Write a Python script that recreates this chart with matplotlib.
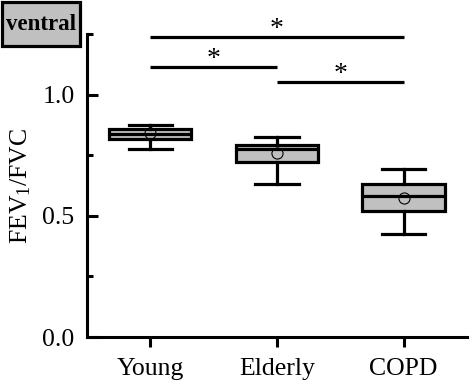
import matplotlib
matplotlib.use('Agg')
import matplotlib.pyplot as plt
from matplotlib.ticker import MultipleLocator
from matplotlib.patches import Rectangle

font = {'family': 'Liberation Serif', 'size': 18.5}
matplotlib.rc('font', **font)
matplotlib.rcParams['mathtext.fontset'] = 'custom'
matplotlib.rcParams['mathtext.rm'] = 'Liberation Serif'
matplotlib.rcParams['mathtext.default'] = 'regular'

# Data
groups = ['Young', 'Elderly', 'COPD']
whislo = [0.776, 0.631, 0.424]
q1 = [0.817, 0.724, 0.521]
med = [0.838, 0.776, 0.580]
q3 = [0.858, 0.793, 0.632]
whishi = [0.876, 0.825, 0.693]
means = [0.840, 0.759, 0.574]

# significance brackets: (from group, to group, height)
sig_pairs = [(1, 3, 1.238), (1, 2, 1.114), (2, 3, 1.051)]

fig = plt.figure(figsize=(4.77, 3.92), dpi=100)
ax = fig.add_axes([0.1824, 0.1403, 0.7966, 0.7727])

stats = []
for i in range(len(groups)):
    stats.append({'label': groups[i], 'whislo': whislo[i], 'q1': q1[i], 'med': med[i],
                  'q3': q3[i], 'whishi': whishi[i], 'mean': means[i]})

lw = 2.3
ax.bxp(stats, positions=[1, 2, 3], widths=0.65, patch_artist=True, showmeans=True,
       showfliers=False,
       boxprops=dict(facecolor='#c0c0c0', edgecolor='k', linewidth=lw),
       medianprops=dict(color='k', linewidth=lw),
       whiskerprops=dict(color='k', linewidth=lw),
       capprops=dict(color='k', linewidth=lw),
       capwidths=0.34,
       meanprops=dict(marker='o', markerfacecolor='none', markeredgecolor='k',
                      markersize=8, markeredgewidth=0.8))

for a, b, h in sig_pairs:
    ax.plot([a, b], [h, h], c='k', lw=lw, clip_on=False, solid_capstyle='butt')
    ax.text((a + b) / 2, h + 0.006, '*', ha='center', va='baseline', fontsize=20)

ax.set_xlim(0.5, 3.5)
ax.set_ylim(0, 1.25)
ax.set_xticks([1, 2, 3])
ax.set_xticklabels(groups)
ax.yaxis.set_major_locator(MultipleLocator(0.5))
ax.yaxis.set_minor_locator(MultipleLocator(0.25))
ax.yaxis.set_major_formatter(matplotlib.ticker.FormatStrFormatter('%.1f'))
ax.tick_params(axis='y', which='major', direction='in', length=8, width=2.2, pad=9)
ax.tick_params(axis='y', which='minor', direction='in', length=4.5, width=2.2)
ax.tick_params(axis='x', which='major', direction='out', length=7, width=2.2, pad=8)
ax.spines['top'].set_visible(False)
ax.spines['right'].set_visible(False)
ax.spines['left'].set_linewidth(2.2)
ax.spines['bottom'].set_linewidth(2.2)
ax.set_ylabel('FEV$_1$/FVC', labelpad=7)

# "ventral" label box in the top-left corner
fig.patches.append(Rectangle((1.5 / 477, 1 - 46 / 392), 79 / 477, 44.5 / 392,
                             transform=fig.transFigure, facecolor='#c0c0c0',
                             edgecolor='k', linewidth=2.3))
fig.text(41 / 477, 1 - 25 / 392, 'ventral', ha='center', va='center',
         fontsize=16.5, fontweight='bold')

fig.savefig('out.png', dpi=100)
